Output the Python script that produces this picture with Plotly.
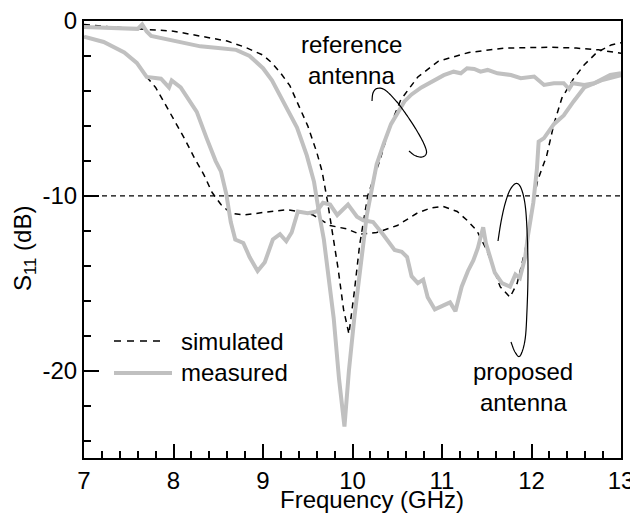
import numpy as np
import plotly.graph_objects as go

# ---------------- data ----------------
freq_ref_sim = [7.0, 7.5, 8.0, 8.3, 8.6, 8.8, 9.0, 9.1, 9.2, 9.3, 9.4, 9.5, 9.6, 9.66, 9.72,
                9.78, 9.84, 9.9, 9.96, 10.02, 10.08, 10.17, 10.24, 10.31, 10.42, 10.54, 10.73,
                10.96, 11.3, 11.7, 12.2, 12.5, 12.75, 13.0]
s11_ref_sim = [-0.2, -0.42, -0.58, -0.85, -1.15, -1.5, -1.95, -2.4, -3.0, -3.7, -4.8, -6.0, -7.5,
               -8.6, -10.3, -12.3, -14.2, -16.5, -17.9, -15.5, -12.8, -10.0, -8.9, -7.9, -6.0,
               -4.5, -3.2, -2.3, -1.8, -1.55, -1.5, -1.55, -1.65, -1.85]

freq_ref_meas = [7.0, 7.3, 7.6, 7.65, 7.7, 7.75, 8.0, 8.12, 8.3, 8.5, 8.7, 8.85, 9.0, 9.1, 9.23,
                 9.38, 9.49, 9.57, 9.63, 9.68, 9.79, 9.85, 9.91, 9.96, 10.02, 10.1, 10.16, 10.22,
                 10.27, 10.35, 10.43, 10.58, 10.66, 10.77, 10.88, 11.02, 11.13, 11.21, 11.28,
                 11.36, 11.43, 11.51, 11.62, 11.77, 11.88, 12.03, 12.14, 12.25, 12.36, 12.42,
                 12.46, 12.59, 12.70, 12.81, 12.88, 13.0]
s11_ref_meas = [-0.35, -0.4, -0.45, -0.2, -0.6, -0.85, -1.1, -1.25, -1.45, -1.55, -1.65, -2.0,
                -2.7, -3.4, -4.6, -6.1, -7.7, -9.2, -11.1, -12.5, -17.0, -20.5, -23.2, -20.0,
                -17.0, -13.5, -11.1, -9.5, -8.2, -7.0, -5.9, -4.6, -4.2, -3.8, -3.5, -3.1, -2.9,
                -2.99, -2.7, -2.74, -2.9, -2.8, -2.99, -3.09, -3.27, -3.18, -3.66, -3.56, -3.56,
                -3.89, -3.56, -3.66, -3.56, -3.27, -3.09, -2.99]

freq_prop_sim = [7.0, 7.22, 7.45, 7.59, 7.7, 7.8, 7.89, 8.0, 8.12, 8.23, 8.34, 8.43, 8.53, 8.64,
                 8.79, 9.01, 9.27, 9.41, 9.56, 9.75, 9.94, 10.08, 10.27, 10.5, 10.72, 10.87,
                 11.01, 11.17, 11.28, 11.39, 11.5, 11.57, 11.65, 11.76, 11.84, 11.93, 12.0,
                 12.07, 12.17, 12.25, 12.34, 12.47, 12.59, 12.73, 12.89, 13.0]
s11_prop_sim = [-0.9, -1.2, -1.8, -2.4, -3.2, -3.8, -4.6, -5.6, -6.7, -7.8, -8.8, -9.8, -10.5,
                -11.0, -11.1, -10.95, -10.8, -10.9, -11.1, -11.7, -11.9, -12.2, -12.1, -11.7,
                -11.0, -10.7, -10.6, -10.9, -11.4, -12.0, -13.1, -14.1, -15.2, -15.8, -15.0,
                -13.1, -10.8, -9.1, -7.7, -5.9, -4.4, -3.3, -2.5, -1.8, -1.37, -1.25]

freq_prop_meas = [7.0, 7.22, 7.45, 7.59, 7.70, 7.86, 7.95, 7.98, 8.08, 8.2, 8.26, 8.37, 8.47,
                  8.53, 8.59, 8.64, 8.69, 8.78, 8.85, 8.94, 9.02, 9.11, 9.19, 9.26, 9.32, 9.39,
                  9.5, 9.6, 9.67, 9.75, 9.83, 9.95, 10.05, 10.12, 10.23, 10.34, 10.47, 10.55,
                  10.61, 10.66, 10.73, 10.79, 10.84, 10.92, 11.01, 11.09, 11.15, 11.22, 11.29,
                  11.35, 11.40, 11.46, 11.49, 11.54, 11.59, 11.67, 11.76, 11.82, 11.87, 11.93,
                  11.96, 12.02, 12.06, 12.08, 12.14, 12.25, 12.36, 12.47, 12.59, 12.78, 13.0]
s11_prop_meas = [-0.9, -1.2, -1.8, -2.4, -3.2, -3.3, -3.8, -3.4, -3.8, -4.8, -5.2, -6.7, -8.0,
                 -8.6, -9.9, -11.5, -12.5, -12.7, -13.5, -14.3, -13.8, -12.5, -12.2, -12.6,
                 -12.1, -10.9, -11.0, -10.9, -10.4, -10.5, -11.1, -10.5, -11.2, -11.4, -11.5,
                 -12.2, -13.1, -13.2, -13.5, -14.6, -15.0, -14.8, -15.8, -16.5, -16.3, -16.1,
                 -16.6, -15.2, -14.3, -13.7, -13.0, -11.8, -12.7, -13.5, -14.4, -15.0, -15.2,
                 -14.5, -14.7, -13.5, -12.3, -10.4, -8.5, -6.9, -6.7, -5.9, -5.4, -4.6, -3.8,
                 -3.4, -3.1]

x_tickvals = [7, 8, 9, 10, 11, 12, 13]
x_ticktext = ["7", "8", "9", "10", "11", "12", "13"]
y_tickvals = [-20, -10, 0]
y_ticktext = ["-20", "-10", "0"]
threshold_db = -10

# ---------------- geometry helpers (layout only) ----------------
PAGE_W, PAGE_H = 638, 515
BODY = 8                      # default page body margin
W, H = PAGE_W - BODY, PAGE_H - BODY
L, R, T, B = 84, 621, 21, 458  # plot area in page pixels
X0, X1 = 7.0, 13.0
Y0, Y1 = -25.0, 0.0
FONT = "Liberation Sans, Arial, Helvetica, sans-serif"
GRAY = "#c0c0c0"


def px2data(px, py):
    return X0 + (px - L) / (R - L) * (X1 - X0), Y1 - (py - T) / (B - T) * (Y1 - Y0)


def px2paper(px, py):
    return (px - L) / (R - L), (B - py) / (B - T)


def smooth(pts, n=14):
    P = np.array(pts, float)
    P = np.vstack([P[0], P, P[-1]])
    out = []
    for i in range(1, len(P) - 2):
        p0, p1, p2, p3 = P[i - 1], P[i], P[i + 1], P[i + 2]
        for t in np.linspace(0, 1, n, endpoint=False):
            t2, t3 = t * t, t * t * t
            out.append(0.5 * ((2 * p1) + (-p0 + p2) * t + (2 * p0 - 5 * p1 + 4 * p2 - p3) * t2
                              + (-p0 + 3 * p1 - 3 * p2 + p3) * t3))
    out.append(P[-2])
    return np.array(out)


def loop_path(pts):
    s = smooth(pts)
    d = [px2data(px, py) for px, py in s]
    return "M " + " L ".join(f"{x:.4f},{y:.4f}" for x, y in d)


ref_loop = [(372, 101), (373, 93), (377, 88.5), (385, 90), (397, 102), (408, 117), (417, 131),
            (424, 144), (426.5, 153), (422, 157), (415, 155.5), (409, 151)]
prop_loop = [(498, 241), (501, 222), (505, 204), (510, 190), (516, 183.5), (521, 188),
             (525, 204), (527, 230), (528, 270), (527, 310), (525, 340), (520, 356),
             (515, 352), (511, 342)]

fig = go.Figure()

dash_style = dict(color="black", width=1.5, dash="6px,5px")
fig.add_trace(go.Scatter(x=freq_ref_sim, y=s11_ref_sim, mode="lines", line=dash_style,
                         name="simulated (reference)"))
fig.add_trace(go.Scatter(x=freq_prop_sim, y=s11_prop_sim, mode="lines", line=dash_style,
                         name="simulated (proposed)"))
fig.add_trace(go.Scatter(x=freq_ref_meas, y=s11_ref_meas, mode="lines",
                         line=dict(color=GRAY, width=4), name="measured (reference)"))
fig.add_trace(go.Scatter(x=freq_prop_meas, y=s11_prop_meas, mode="lines",
                         line=dict(color=GRAY, width=4), name="measured (proposed)"))

shapes = [
    dict(type="line", xref="x", yref="y", x0=X0, x1=X1, y0=threshold_db, y1=threshold_db,
         line=dict(color="black", width=1.2, dash="5px,4px"), layer="below"),
    dict(type="path", xref="x", yref="y", path=loop_path(ref_loop),
         line=dict(color="black", width=1.2)),
    dict(type="path", xref="x", yref="y", path=loop_path(prop_loop),
         line=dict(color="black", width=1.2)),
]
# legend samples
lx0, ly = px2paper(114, 341)
lx1, _ = px2paper(164, 341)
shapes.append(dict(type="line", xref="paper", yref="paper", x0=lx0, x1=lx1, y0=ly, y1=ly,
                   line=dict(color="black", width=1.5, dash="7px,6px")))
gx0, gy = px2paper(114, 373)
gx1, _ = px2paper(172, 373)
shapes.append(dict(type="line", xref="paper", yref="paper", x0=gx0, x1=gx1, y0=gy, y1=gy,
                   line=dict(color=GRAY, width=4)))

annotations = []


def text(px, py, s, size=24, xanchor="center", angle=0):
    x, y = px2paper(px, py)
    annotations.append(dict(x=x, y=y, xref="paper", yref="paper", text=s, showarrow=False,
                            xanchor=xanchor, yanchor="middle", textangle=angle,
                            font=dict(family=FONT, size=size, color="black")))


text(351.5, 44, "reference")
text(351.5, 75, "antenna")
text(522.5, 371, "proposed")
text(523, 402, "antenna")
text(179, 341, "simulated", xanchor="left")
text(179, 372, "measured", xanchor="left")
text(371.5, 500, "Frequency (GHz)", size=24)
text(24, 249, "S<sub>11</sub> (dB)", size=24, angle=-90)

axis_common = dict(showline=True, linecolor="black", linewidth=2, mirror=True,
                   ticks="inside", tickcolor="black", tickwidth=2, showgrid=False,
                   zeroline=False, ticklabeloverflow="allow",
                   tickfont=dict(family=FONT, size=24, color="black"))

fig.update_layout(
    width=W, height=H,
    margin=dict(l=L - BODY, r=W - (R - BODY), t=T - BODY, b=H - (B - BODY), pad=0,
                autoexpand=False),
    paper_bgcolor="white", plot_bgcolor="white",
    showlegend=False,
    shapes=shapes, annotations=annotations,
    xaxis=dict(range=[X0, X1], tickmode="array", tickvals=x_tickvals, ticktext=x_ticktext,
               ticklen=14,
               minor=dict(tickmode="linear", tick0=7, dtick=0.2, ticks="inside", ticklen=7,
                          tickwidth=1.5, tickcolor="black", showgrid=False),
               **axis_common),
    yaxis=dict(range=[Y0, Y1], tickmode="array", tickvals=y_tickvals, ticktext=y_ticktext,
               ticklen=15,
               minor=dict(tickmode="linear", tick0=0, dtick=2, ticks="inside", ticklen=7,
                          tickwidth=1.5, tickcolor="black", showgrid=False),
               **axis_common),
)

fig.write_html("out.html")
